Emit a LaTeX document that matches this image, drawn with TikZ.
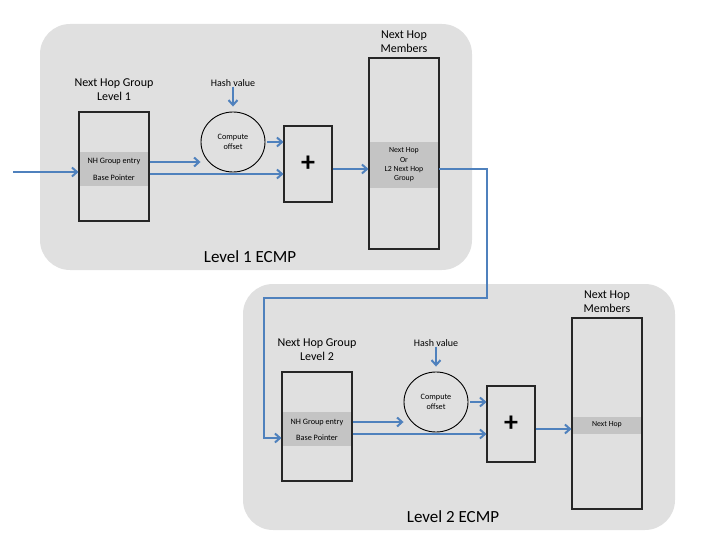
\documentclass[tikz,border=0pt]{standalone}
\usepackage{fontspec}
\setmainfont{Carlito}
\usetikzlibrary{calc,shapes.geometric,arrows.meta}
\definecolor{panelgray}{RGB}{224,224,224}
\definecolor{bandgray}{RGB}{196,196,196}
\definecolor{flowblue}{RGB}{79,129,189}
\newcommand{\fsz}[2]{\fontsize{#1}{#2}\selectfont}
\tikzset{
  tablebox/.style={draw=black!85, line width=1.1pt, minimum width=70pt, inner sep=0pt},
  band/.style={fill=bandgray, minimum width=70pt, inner sep=0pt},
  flow/.style={draw=flowblue, line width=2pt, -{Straight Barb[length=5pt,width=9pt]}},
  small/.style={font=\fsz{8.2}{9.3}, align=center, inner sep=0pt},
  title/.style={font=\fsz{12}{14}, align=center, inner sep=0pt},
}

\begin{document}
\begin{tikzpicture}[x=1pt,y=-1pt]
    \useasboundingbox (0,0) rectangle (720,540);
    \foreach \lv/\dx/\dy/\hoptext/\hoph in {1/0/0/{Next Hop\\Or\\L2 Next Hop\\Group}/46, 2/203/260/{Next Hop}/17} {
      \begin{scope}[shift={(\dx,\dy)}]
        \fill[panelgray, rounded corners=30pt] (40,24) rectangle (472,270);
        %group table
        \node[title] (gtitle\lv) at (114,90) {Next Hop Group\\Level \lv};
        \node[band, minimum height=34pt] (gband\lv) at (114,169) {};
        \node[tablebox, minimum height=109pt] (grp\lv) at (114,166.5) {};
        \node[small] (ent\lv) at (114,162) {NH Group entry};
        \node[small] (base\lv) at (114,178) {Base Pointer};
        %offset and adder
        \node[font=\fsz{10}{11}, inner sep=0pt] (hash\lv) at (233,83) {Hash value};
        \node[ellipse, draw, line width=0.9pt, minimum width=64pt, minimum height=60pt, small] (circ\lv) at (233,142) {Compute\\offset};
        \node[tablebox, minimum width=48pt, minimum height=76pt, font=\fsz{28}{30}\bfseries] (plus\lv) at (308,164) {+};
        %member table
        \node[title] (mtitle\lv) at (404,42) {Next Hop\\Members};
        \node[band, minimum height=\hoph pt, small, font=\fsz{7.8}{9.3}] (hop\lv) at (404,165) {\hoptext};
        \node[tablebox, minimum height=191pt] (memb\lv) at (404,153.5) {};
        \node[font=\fsz{17}{20}, inner sep=0pt] (lvl\lv) at (250,257) {Level \lv\ ECMP};
        %arrows
        \draw[flow] (hash\lv.south) -- ([yshift=5pt]circ\lv.north);
        \draw[flow] (ent\lv -| grp\lv.east) -- (ent\lv -| circ\lv.west);
        \draw[flow] ([yshift=4pt]base\lv -| grp\lv.east) -- ([yshift=4pt]base\lv -| plus\lv.west);
        \draw[flow] ([xshift=2pt]circ\lv.east) -- (circ\lv -| plus\lv.west);
        \draw[flow] ([yshift=-5pt]plus\lv.east) -- ([yshift=-5pt]plus\lv.east -| memb\lv.west);
      \end{scope}
    }
    %input and link between levels
    \coordinate (src) at (13,172);
    \coordinate (bendR) at (487,298);
    \coordinate (bendL) at (264,298);
    \draw[flow] (src) -- (src -| grp1.west);
    \draw[flow] ([yshift=-4pt]hop1.east) -| (bendR) -- (bendL) |- (base2 -| grp2.west);
\end{tikzpicture}
\end{document}
